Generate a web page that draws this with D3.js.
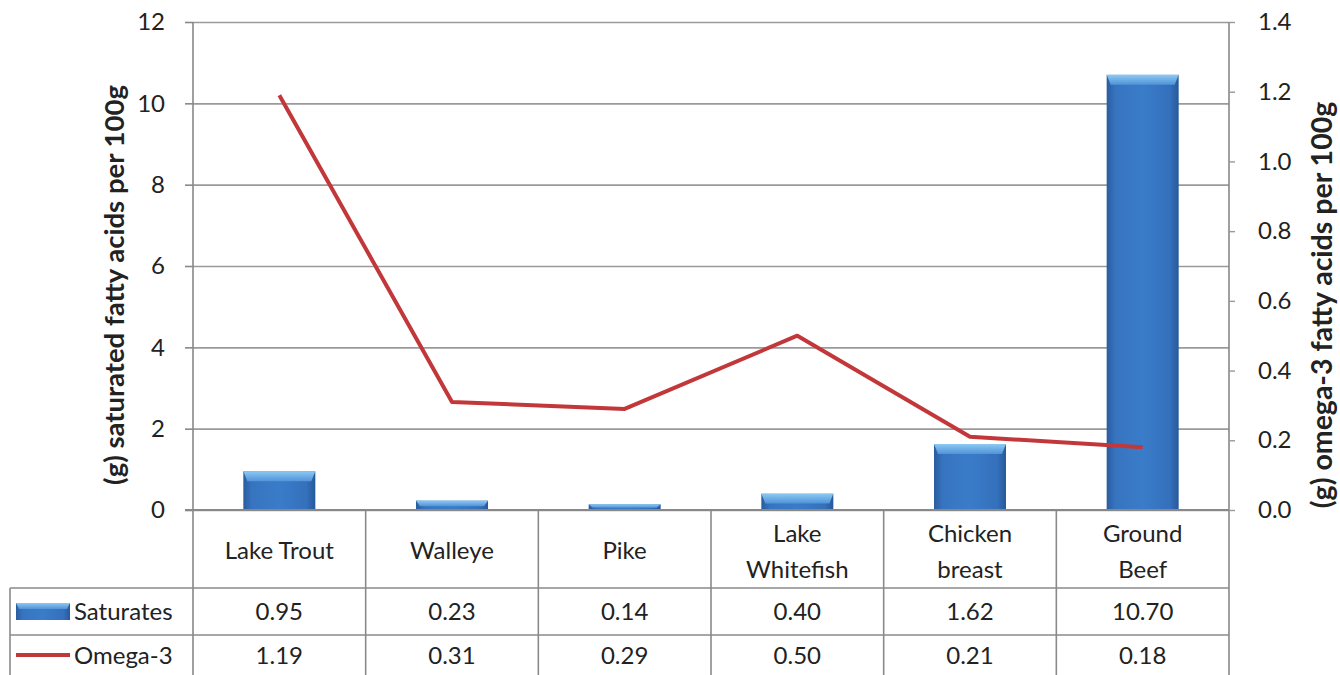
<!DOCTYPE html>
<html><head><meta charset="utf-8">
<script src="https://cdn.jsdelivr.net/npm/d3@7"></script>
<style>body{margin:0;background:#fff}svg{display:block}text{font-family:Lato,"Open Sans",sans-serif;fill:#222}</style>
</head><body><svg id="c" width="1340" height="675"></svg>
<script>
const categories = ["Lake Trout","Walleye","Pike","Lake Whitefish","Chicken breast","Ground Beef"];
const categoryLines = [["Lake Trout"],["Walleye"],["Pike"],["Lake","Whitefish"],["Chicken","breast"],["Ground","Beef"]];
const saturates = [0.95,0.23,0.14,0.40,1.62,10.70];
const omega3 = [1.19,0.31,0.29,0.50,0.21,0.18];
const leftTicks = [0,2,4,6,8,10,12];
const rightTicks = [0,0.2,0.4,0.6,0.8,1.0,1.2,1.4];
const seriesNames = ["Saturates","Omega-3"];

const svg = d3.select("#c");
const L=193,R=1229,T=22,B=510;
const x = d3.scaleBand().domain(categories).range([L,R]);
const yL = d3.scaleLinear().domain([0,12]).range([B,T]);
const yR = d3.scaleLinear().domain([0,1.4]).range([B,T]);

const defs = svg.append("defs");
const g1 = defs.append("linearGradient").attr("id","barG").attr("x1",0).attr("x2",1).attr("y1",0).attr("y2",0);
g1.append("stop").attr("offset","0").attr("stop-color","#2a5c9e");
g1.append("stop").attr("offset","0.12").attr("stop-color","#3774c0");
g1.append("stop").attr("offset","0.5").attr("stop-color","#3a7cc9");
g1.append("stop").attr("offset","0.88").attr("stop-color","#3470bb");
g1.append("stop").attr("offset","1").attr("stop-color","#27599a");
const g2 = defs.append("linearGradient").attr("id","topG").attr("x1",0).attr("x2",0).attr("y1",0).attr("y2",1);
g2.append("stop").attr("offset","0").attr("stop-color","#8cc8f2");
g2.append("stop").attr("offset","1").attr("stop-color","#4f93d8");

// gridlines
svg.append("g").attr("transform",`translate(${L},0)`)
  .call(d3.axisLeft(yL).tickValues(leftTicks).tickSize(-(R-L)).tickFormat(""))
  .call(g=>g.select(".domain").remove())
  .call(g=>g.selectAll("line").attr("stroke","#9a9a9a").attr("stroke-width",1.6));

// left axis
svg.append("g").attr("transform",`translate(${L},0)`)
  .call(d3.axisLeft(yL).tickValues(leftTicks).tickSize(8).tickPadding(20).tickFormat(d3.format("d")))
  .call(g=>g.select(".domain").attr("stroke","#888").attr("stroke-width",1.6).attr("d",`M0,${T}V675`))
  .call(g=>g.selectAll("line").attr("stroke","#888").attr("stroke-width",1.6))
  .call(g=>g.selectAll("text").attr("font-size",24).attr("fill","#2a2a2a"));

// right axis
svg.append("g").attr("transform",`translate(${R},0)`)
  .call(d3.axisRight(yR).tickValues(rightTicks).tickSize(6).tickPadding(23).tickFormat(d3.format(".1f")))
  .call(g=>g.select(".domain").attr("stroke","#888").attr("stroke-width",1.6).attr("d",`M0,${T}V675`))
  .call(g=>g.selectAll("line").attr("stroke","#999").attr("stroke-width",1.4))
  .call(g=>g.selectAll("text").attr("font-size",24).attr("fill","#2a2a2a"));

// bars
const bw = 72;
const bars = svg.append("g");
categories.forEach((c,i)=>{
  const cx = x(c)+x.bandwidth()/2;
  const y0 = yL(saturates[i]);
  const h = B-y0;
  bars.append("rect").attr("x",cx-bw/2).attr("y",y0).attr("width",bw).attr("height",h).attr("fill","url(#barG)");
  const bev = Math.min(10,h*0.6);
  bars.append("path").attr("d",`M${cx-bw/2},${y0}H${cx+bw/2}L${cx+bw/2-4},${y0+bev}H${cx-bw/2+4}Z`).attr("fill","url(#topG)");
});

// line
const line = d3.line().x((d,i)=>x(categories[i])+x.bandwidth()/2).y(d=>yR(d));
svg.append("path").datum(omega3).attr("d",line).attr("fill","none").attr("stroke","#c2383a").attr("stroke-width",4).attr("stroke-linejoin","round");

// table
const tb = svg.append("g");
const rowY = [588,635];
const gridC = "#8a8a8a";
rowY.forEach(y=>tb.append("line").attr("x1",10).attr("x2",R).attr("y1",y).attr("y2",y).attr("stroke",gridC).attr("stroke-width",1.6));
tb.append("line").attr("x1",10).attr("x2",10).attr("y1",588).attr("y2",675).attr("stroke",gridC).attr("stroke-width",1.6);
categories.forEach((c,i)=>{
  if(i>0) tb.append("line").attr("x1",x(c)).attr("x2",x(c)).attr("y1",B).attr("y2",675).attr("stroke",gridC).attr("stroke-width",1.6);
});
// zero axis line
svg.append("line").attr("x1",L-8).attr("x2",R).attr("y1",B).attr("y2",B).attr("stroke","#888").attr("stroke-width",1.8);

categories.forEach((c,i)=>{
  const cx = x(c)+x.bandwidth()/2;
  const lines = categoryLines[i];
  const y0 = lines.length===1 ? 559 : 542;
  lines.forEach((t,j)=>tb.append("text").attr("x",cx).attr("y",y0+j*36).attr("text-anchor","middle").attr("font-size",24).text(t));
  tb.append("text").attr("x",cx).attr("y",620).attr("text-anchor","middle").attr("font-size",24).text(saturates[i].toFixed(2));
  tb.append("text").attr("x",cx).attr("y",664).attr("text-anchor","middle").attr("font-size",24).text(omega3[i].toFixed(2));
});
// legend keys
tb.append("rect").attr("x",16).attr("y",603).attr("width",54).attr("height",17).attr("fill","url(#barG)");
tb.append("path").attr("d","M16,603H70L67,609H19Z").attr("fill","url(#topG)");
tb.append("text").attr("x",74).attr("y",620).attr("font-size",24).text(seriesNames[0]);
tb.append("line").attr("x1",16).attr("x2",70).attr("y1",655).attr("y2",655).attr("stroke","#c2383a").attr("stroke-width",4);
tb.append("text").attr("x",74).attr("y",664).attr("font-size",24).text(seriesNames[1]);

// axis titles
svg.append("text").attr("transform",`translate(124,285) rotate(-90)`).attr("text-anchor","middle")
  .attr("font-size",27.5).attr("font-weight","bold").text("(g) saturated fatty acids per 100g");
svg.append("text").attr("transform",`translate(1332,305) rotate(-90)`).attr("text-anchor","middle")
  .attr("font-size",28.5).attr("font-weight","bold").text("(g) omega-3 fatty acids per 100g");
</script></body></html>
